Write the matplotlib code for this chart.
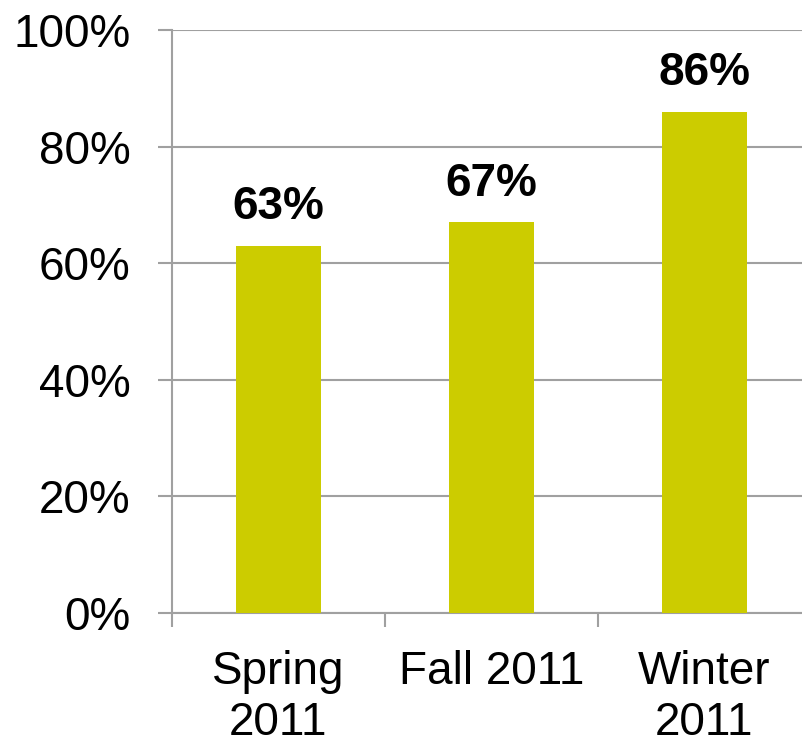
import matplotlib.pyplot as plt
import numpy as np

categories = ["Spring\n2011", "Fall 2011", "Winter\n2011"]
values = [63, 67, 86]
yticks = [0, 20, 40, 60, 80, 100]

plt.rcParams['font.family'] = ['Liberation Sans', 'DejaVu Sans']

fig = plt.figure(figsize=(8.03, 7.44), dpi=100)
# axes run past the right edge of the figure, like the original crop
ax = fig.add_axes([172/803, 1 - 613/744, 639/803, 583/744])

x = np.arange(len(categories))
bars = ax.bar(x, values, width=0.4, color="#CCCC00", zorder=3)

for xi, v in zip(x, values):
    ax.annotate(f"{v}%", (xi, v), xytext=(0, 12), textcoords="offset points",
                ha="center", va="bottom", fontsize=33, fontweight="bold")

ax.set_ylim(0, 100)
ax.set_xlim(-0.5, 2.5)
ax.set_yticks(yticks)
ax.set_yticklabels([f"{t}%" for t in yticks])
ax.yaxis.grid(True, color="#A0A0A0", linewidth=1.5, zorder=0)
ax.tick_params(axis="y", length=10, width=1.5, color="#A0A0A0",
               labelsize=33, pad=20)

ax.set_xticks([-0.5, 0.5, 1.5, 2.5])
ax.set_xticklabels([])
ax.set_xticks(x, minor=True)
ax.set_xticklabels(categories, minor=True)
ax.tick_params(axis="x", which="major", length=10, width=1.5, color="#A0A0A0")
ax.tick_params(axis="x", which="minor", length=0, labelsize=33, pad=27)

for s in ["top", "right"]:
    ax.spines[s].set_visible(False)
for s in ["left", "bottom"]:
    ax.spines[s].set_color("#A0A0A0")
    ax.spines[s].set_linewidth(1.5)

fig.savefig("out.png", dpi=100)
